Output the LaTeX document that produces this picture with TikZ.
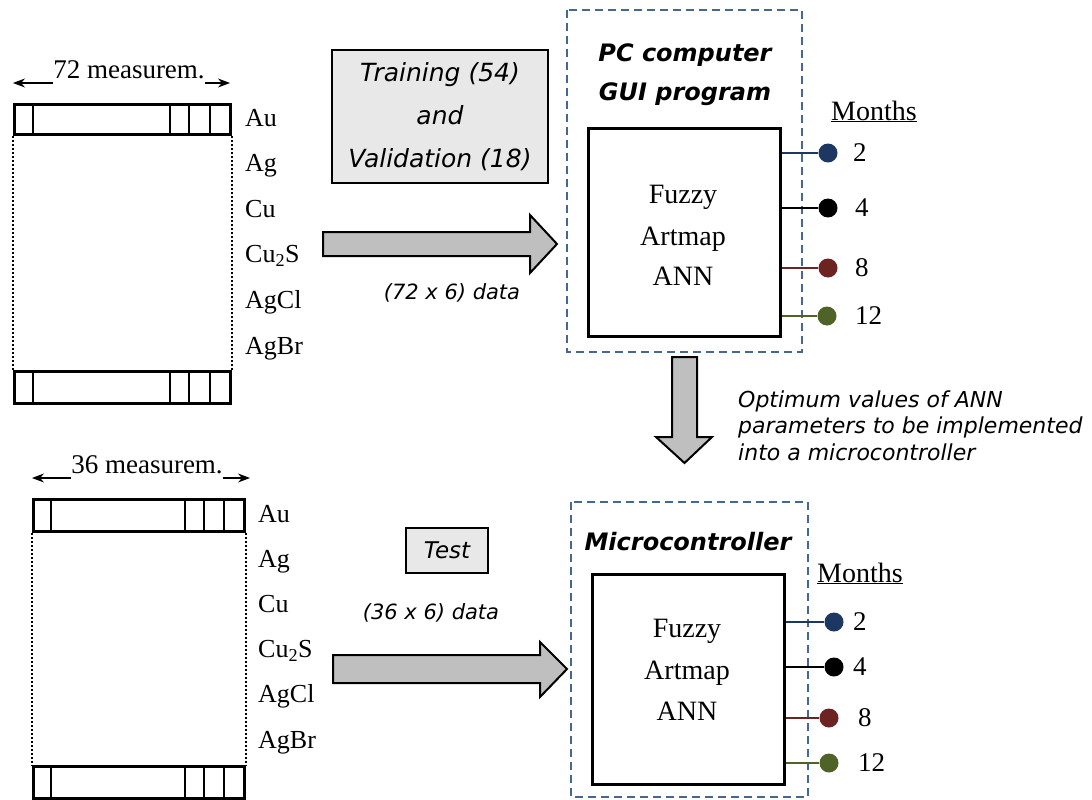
\documentclass[tikz,border=0pt]{standalone}
\usepackage{fontspec}
\setmainfont{Liberation Serif}
\newfontfamily\vsans{DejaVu Sans}[ItalicFont={DejaVu Sans Oblique},BoldFont={DejaVu Sans Bold},BoldItalicFont={DejaVu Sans Bold Oblique}]
\usetikzlibrary{arrows.meta}
\definecolor{dashblue}{RGB}{68,104,145}
\definecolor{outblue}{RGB}{28,55,98}
\definecolor{outred}{RGB}{110,35,35}
\definecolor{outgreen}{RGB}{79,98,40}
\definecolor{boxgray}{RGB}{232,232,232}
\definecolor{arrgray}{RGB}{191,191,191}
\begin{document}
\begin{tikzpicture}[x=1pt,y=-1pt,
  lbl/.style={anchor=base west,inner sep=0pt,font=\fontsize{26}{30}\selectfont},
  meas/.style={anchor=base,inner sep=0pt,font=\fontsize{27}{30}\selectfont},
  measarr/.style={line width=1.1pt,-{Stealth[length=12pt,width=9pt]}},
  rowbox/.style={draw,line width=2.8pt},
  rowdiv/.style={line width=2.8pt},
  dotv/.style={dotted,line width=2pt},
  grbox/.style={draw,line width=1.6pt,fill=boxgray,inner sep=0pt},
  itxt/.style={font=\vsans\itshape\fontsize{25}{43}\selectfont},
  ttxt/.style={font=\vsans\itshape\fontsize{23}{28}\selectfont},
  dtxt/.style={font=\vsans\itshape\fontsize{21}{26}\selectfont},
  otxt/.style={anchor=base west,inner sep=0pt,font=\vsans\itshape\fontsize{22}{26}\selectfont},
  ttl/.style={anchor=base,inner sep=0pt,font=\vsans\bfseries\itshape\fontsize{24}{29}\selectfont},
  dashbox/.style={draw=dashblue,line width=2.5pt,dash pattern=on 8pt off 5pt},
  annbox/.style={draw,line width=2.5pt,inner sep=0pt},
  anntxt/.style={anchor=base,inner sep=0pt,font=\fontsize{28}{34}\selectfont},
  blockarrow/.style={draw,fill=arrgray,line width=2pt,line join=miter},
  outl/.style={line width=2pt},
  odot/.style={circle,inner sep=0pt,minimum size=19pt},
  num/.style={anchor=west,inner sep=0pt,font=\fontsize{27}{30}\selectfont},
  mon/.style={anchor=base west,inner sep=0pt,font=\fontsize{28}{30}\selectfont}
]
\useasboundingbox (0,0) rectangle (1092,800);

% ---------- top-left data matrix ----------
\node[meas] (m1) at (129,78) {72 measurem.};
\coordinate (m1l) at (13,83);
\coordinate (m1r) at (230,83);
\draw[measarr] (m1l -| m1.west) -- (m1l);
\draw[measarr] (m1r -| m1.east) -- (m1r);
\node[rowbox,anchor=north west,minimum width=216pt,minimum height=30pt,inner sep=0pt] (r1) at (13,103) {};
\node[rowbox,anchor=north west,minimum width=216pt,minimum height=32pt,inner sep=0pt] (r2) at (13,370) {};
\foreach \xx in {33,170,189,210}{
  \draw[rowdiv] (\xx,103) -- (\xx,133);
  \draw[rowdiv] (\xx,370) -- (\xx,402);
}
\draw[dotv] (r1.south west) -- (r2.north west);
\draw[dotv] (r1.south east) -- (r2.north east);
\node[lbl] (la1) at (245,126) {Au};
\node[lbl] (la2) at (245,171.6) {Ag};
\node[lbl] (la3) at (245,217.2) {Cu};
\node[lbl] (la4) at (245,262.8) {Cu\textsubscript{2}S};
\node[lbl] (la5) at (245,308.4) {AgCl};
\node[lbl] (la6) at (245,354) {AgBr};

% ---------- bottom-left data matrix ----------
\node[meas] (m2) at (147,473) {36 measurem.};
\coordinate (m2l) at (32,478);
\coordinate (m2r) at (250,478);
\draw[measarr] (m2l -| m2.west) -- (m2l);
\draw[measarr] (m2r -| m2.east) -- (m2r);
\node[rowbox,anchor=north west,minimum width=211pt,minimum height=32pt,inner sep=0pt] (s1) at (32,498) {};
\node[rowbox,anchor=north west,minimum width=211pt,minimum height=32pt,inner sep=0pt] (s2) at (32,765) {};
\foreach \xx in {51,185,204,224}{
  \draw[rowdiv] (\xx,498) -- (\xx,530);
  \draw[rowdiv] (\xx,765) -- (\xx,797);
}
\draw[dotv] (s1.south west) -- (s2.north west);
\draw[dotv] (s1.south east) -- (s2.north east);
\node[lbl] (lb1) at (258,522) {Au};
\node[lbl] (lb2) at (258,567.2) {Ag};
\node[lbl] (lb3) at (258,612.4) {Cu};
\node[lbl] (lb4) at (258,657.6) {Cu\textsubscript{2}S};
\node[lbl] (lb5) at (258,702.8) {AgCl};
\node[lbl] (lb6) at (258,748) {AgBr};

% ---------- labels between ----------
\node[grbox,minimum width=216pt,minimum height=133pt,align=center,itxt] (train) at (440,116.5) {Training (54)\\and\\Validation (18)};
\node[dtxt] (d72) at (452,293) {(72 x 6) data};
\node[grbox,minimum width=82pt,minimum height=45pt,ttxt] (test) at (447,550.5) {Test};
\node[dtxt] (d36) at (431,613) {(36 x 6) data};

% ---------- block arrows ----------
\draw[blockarrow] (323,232) -- (530,232) -- (530,215) -- (557,244) -- (530,273) -- (530,256) -- (323,256) -- cycle;
\draw[blockarrow] (333,655) -- (540,655) -- (540,642) -- (567,669) -- (540,697) -- (540,683) -- (333,683) -- cycle;
\draw[blockarrow] (672,357) -- (697,357) -- (697,437) -- (712,437) -- (684.5,463) -- (656,437) -- (672,437) -- cycle;

\node[otxt] (o1) at (738,407) {Optimum values of ANN};
\node[otxt] (o2) at (738,433.5) {parameters to be implemented};
\node[otxt] (o3) at (738,460) {into a microcontroller};

% ---------- PC box ----------
\draw[dashbox] (567,10) rectangle (802,352);
\node[ttl] (t1) at (685,62) {PC computer};
\node[ttl] (t2) at (685,100) {GUI program};
\node[annbox,anchor=north west,minimum width=192pt,minimum height=208pt] (ann1) at (587,127) {};
\node[anntxt] (f1) at (683,203) {Fuzzy};
\node[anntxt] (a1) at (683,245) {Artmap};
\node[anntxt] (n1) at (683,285) {ANN};
\node[mon] (mo1) at (831,120) {\underline{Months}};
\node[odot,fill=outblue] (p2) at (828,153) {};
\node[odot,fill=black] (p4) at (828,208) {};
\node[odot,fill=outred] (p8) at (828,268) {};
\node[odot,fill=outgreen] (p12) at (827,316) {};
\draw[outl,outblue] (ann1.east |- p2) -- (p2);
\draw[outl,black] (ann1.east |- p4) -- (p4);
\draw[outl,outred] (ann1.east |- p8) -- (p8);
\draw[outl,outgreen] (ann1.east |- p12) -- (p12);
\node[num] (q2) at (853,153) {2};
\node[num] (q4) at (855,208) {4};
\node[num] (q8) at (855,268) {8};
\node[num] (q12) at (855,316) {12};

% ---------- Microcontroller box ----------
\draw[dashbox] (571,502) rectangle (808,797);
\node[ttl] (t3) at (688,550) {Microcontroller};
\node[annbox,anchor=north west,minimum width=192pt,minimum height=210pt] (ann2) at (591,573) {};
\node[anntxt] (f2) at (687,637) {Fuzzy};
\node[anntxt] (a2) at (687,679) {Artmap};
\node[anntxt] (n2) at (687,720) {ANN};
\node[mon] (mo2) at (817,582) {\underline{Months}};
\node[odot,fill=outblue] (u2) at (834,622) {};
\node[odot,fill=black] (u4) at (834,667) {};
\node[odot,fill=outred] (u8) at (829,718) {};
\node[odot,fill=outgreen] (u12) at (829,763) {};
\draw[outl,outblue] (ann2.east |- u2) -- (u2);
\draw[outl,black] (ann2.east |- u4) -- (u4);
\draw[outl,outred] (ann2.east |- u8) -- (u8);
\draw[outl,outgreen] (ann2.east |- u12) -- (u12);
\node[num] (v2) at (853,622) {2};
\node[num] (v4) at (853,667) {4};
\node[num] (v8) at (858,718) {8};
\node[num] (v12) at (858,763) {12};
\end{tikzpicture}
\end{document}
